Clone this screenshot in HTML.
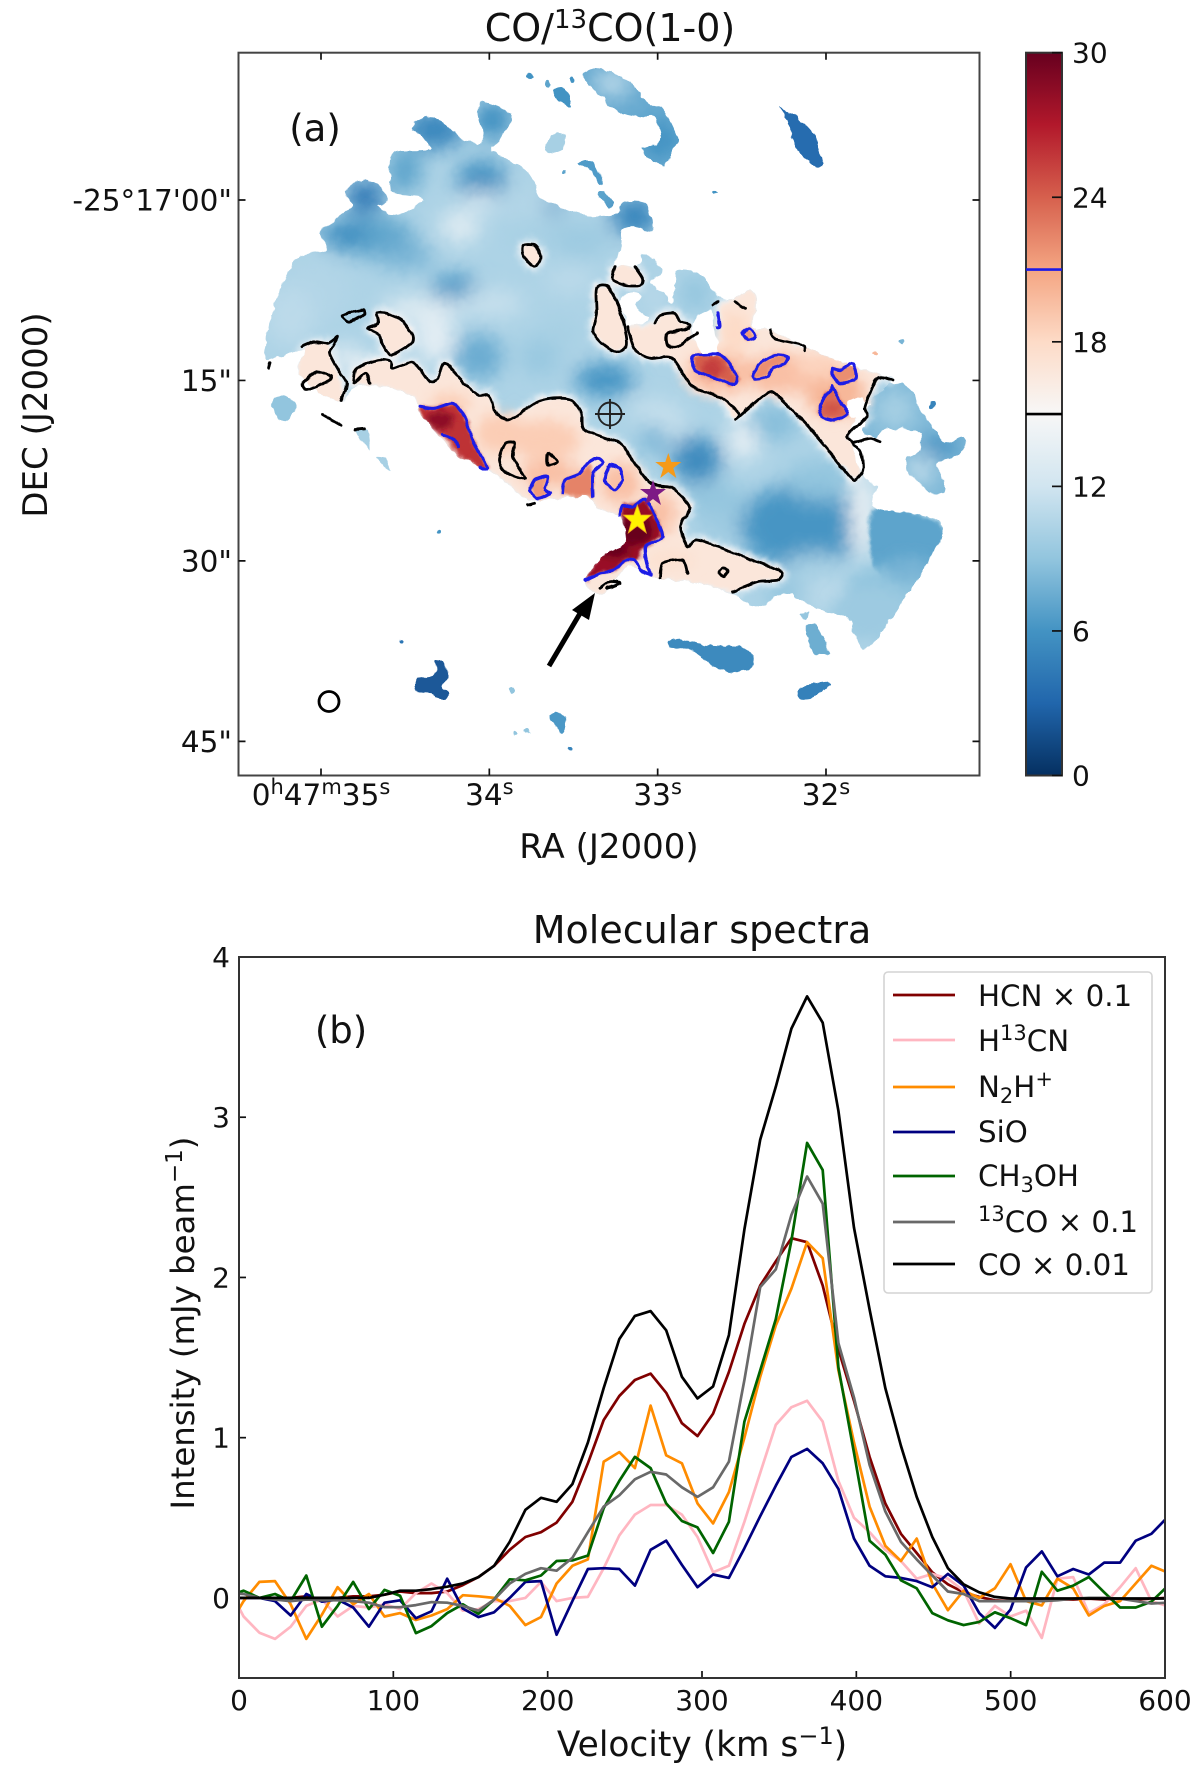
<!DOCTYPE html>
<html lang="en">
<head>
<meta charset="utf-8">
<title>CO/13CO ratio map and molecular spectra</title>
<style>
html,body{margin:0;padding:0;background:#fff}
svg{display:block}
text{font-family:"DejaVu Sans","Liberation Sans",sans-serif;fill:#111}
</style>
</head>
<body>
<svg id="fig" xmlns="http://www.w3.org/2000/svg" width="1200" height="1770" viewBox="0 0 1200 1770">
  <defs>
    <filter id="blur-cool" filterUnits="userSpaceOnUse" x="0" y="0" width="1200" height="900"><feGaussianBlur stdDeviation="10"/></filter>
    <filter id="blur-wide" filterUnits="userSpaceOnUse" x="0" y="0" width="1200" height="900"><feGaussianBlur stdDeviation="7"/></filter>
    <filter id="blur-mid" filterUnits="userSpaceOnUse" x="0" y="0" width="1200" height="900"><feGaussianBlur stdDeviation="3.5"/></filter>
    <filter id="blur-soft" filterUnits="userSpaceOnUse" x="0" y="0" width="1200" height="900"><feGaussianBlur stdDeviation="1.6"/></filter>
    <filter id="rough-edge" filterUnits="userSpaceOnUse" x="0" y="0" width="1200" height="900">
      <feTurbulence type="fractalNoise" baseFrequency="0.11" numOctaves="2" seed="4" result="noise"/>
      <feDisplacementMap in="SourceGraphic" in2="noise" scale="6" xChannelSelector="R" yChannelSelector="G"/>
    </filter>
    <filter id="rough-line" filterUnits="userSpaceOnUse" x="0" y="0" width="1200" height="900">
      <feTurbulence type="fractalNoise" baseFrequency="0.09" numOctaves="2" seed="9" result="noise"/>
      <feDisplacementMap in="SourceGraphic" in2="noise" scale="3.5" xChannelSelector="R" yChannelSelector="G"/>
    </filter>
    <clipPath id="emission-clip"></clipPath>
    <clipPath id="spectra-clip"><rect x="239" y="957" width="926" height="721"/></clipPath>
    <linearGradient id="cbar-gradient" x1="0" y1="1" x2="0" y2="0"></linearGradient>
  </defs>

  <text x="610" y="41" font-size="38" text-anchor="middle">CO/<tspan dy="-13" font-size="26">13</tspan><tspan dy="13">CO(1-0)</tspan></text>
  <g id="map-image" filter="url(#rough-edge)"></g>
  <g id="map-contours" filter="url(#rough-line)"></g>
  <g id="map-axes"></g>
  <text x="315" y="141" font-size="37" text-anchor="middle">(a)</text>
  <text x="609" y="858" font-size="34" text-anchor="middle">RA (J2000)</text>
  <text transform="translate(47,415) rotate(-90)" font-size="34" text-anchor="middle">DEC (J2000)</text>

  <ellipse cx="329" cy="701.5" rx="10" ry="10" fill="none" stroke="#000" stroke-width="2.8"/>
  <g fill="none" stroke="#222" stroke-width="1.9">
    <circle cx="610" cy="414" r="11.5"/>
    <path d="M595 414H625M610 399V429"/>
  </g>
  <polygon transform="translate(-2.7,0)" points="671,453 674,462 684,462 676,468 679,478 671,472 663,478 666,468 658,462 668,462" fill="#f59a1a"/>
  <polygon transform="translate(-3,0)" points="656,480 659,489 669,489 661,495 664,505 656,499 648,505 651,495 643,489 653,489" fill="#7d1a85"/>
  <polygon transform="translate(-1.7,0)" points="639,505 642.5,515 653,515 645,522 648,533 639,526 630,533 633,522 625,515 635.5,515" fill="#fff200" stroke="#e8a020" stroke-width="0.8"/>
  <g>
    <line x1="549" y1="666" x2="582" y2="610" stroke="#000" stroke-width="5"/>
    <polygon points="595,593 572,610 589,620" fill="#000"/>
  </g>

  <g id="cbar"></g>

  <text x="702" y="943" font-size="38" text-anchor="middle">Molecular spectra</text>
  <g id="spectra-axes"></g>
  <g id="spectra-lines" clip-path="url(#spectra-clip)"></g>
  <rect x="239" y="957" width="926" height="721" fill="none" stroke="#333" stroke-width="2"/>
  <text x="341" y="1043" font-size="37" text-anchor="middle">(b)</text>
  <text x="702" y="1756" font-size="34.4" text-anchor="middle">Velocity (km s<tspan dy="-12" font-size="24">−1</tspan><tspan dy="12">)</tspan></text>
  <text transform="translate(194,1323) rotate(-90)" font-size="32.4" text-anchor="middle">Intensity (mJy beam<tspan dy="-12" font-size="23">−1</tspan><tspan dy="12">)</tspan></text>

  <g font-size="29.3">
    <rect x="884" y="972" width="268" height="321" rx="4" fill="#fff" fill-opacity="0.85" stroke="#d4d4d4" stroke-width="1.6"/>
    <g><line x1="893" x2="955" y1="995" y2="995" stroke="#800000" stroke-width="2.7"/><text x="978" y="1006">HCN × 0.1</text></g>
    <g><line x1="893" x2="955" y1="1040" y2="1040" stroke="#ffb6c1" stroke-width="2.7"/><text x="978" y="1051">H<tspan dy="-11" font-size="21">13</tspan><tspan dy="11">CN</tspan></text></g>
    <g><line x1="893" x2="955" y1="1087" y2="1087" stroke="#ff8c00" stroke-width="2.7"/><text x="978" y="1097">N<tspan dy="6" font-size="21">2</tspan><tspan dy="-6">H</tspan><tspan dy="-11" font-size="21">+</tspan></text></g>
    <g><line x1="893" x2="955" y1="1132" y2="1132" stroke="#000080" stroke-width="2.7"/><text x="978" y="1142">SiO</text></g>
    <g><line x1="893" x2="955" y1="1176" y2="1176" stroke="#006400" stroke-width="2.7"/><text x="978" y="1186">CH<tspan dy="6" font-size="21">3</tspan><tspan dy="-6">OH</tspan></text></g>
    <g><line x1="893" x2="955" y1="1222" y2="1222" stroke="#696969" stroke-width="2.7"/><text x="978" y="1232"><tspan dy="-11" font-size="21">13</tspan><tspan dy="11">CO × 0.1</tspan></text></g>
    <g><line x1="893" x2="955" y1="1264" y2="1264" stroke="#000" stroke-width="2.7"/><text x="978" y="1275">CO × 0.01</text></g>
  </g>
</svg>

<script>
// ---------- Spectra data ----------
const velocity = [-7.1,3.0,13.2,23.3,33.5,43.6,53.7,63.9,74.0,84.2,
  94.3,104.4,114.6,124.7,134.9,145.0,155.1,165.3,175.4,185.6,
  195.7,205.8,216.0,226.1,236.3,246.4,256.5,266.7,276.8,287.0,
  297.1,307.2,317.4,327.5,337.7,347.8,357.9,368.1,378.2,388.4,
  398.5,408.6,418.8,428.9,439.1,449.2,459.3,469.5,479.6,489.8,
  499.9,510.0,520.2,530.3,540.5,550.6,560.7,570.9,581.0,591.2,601.3];
const hcn = [0,0,0,-.01,0,.01,-.02,0,.01,.01,
  .02,.04,.03,.03,.04,.08,.13,.2,.3,.38,
  .41,.47,.6,.84,1.11,1.26,1.36,1.4,1.28,1.09,
  1.01,1.15,1.41,1.71,1.95,2.1,2.245,2.22,1.95,1.55,
  1.23,.88,.59,.4,.28,.16,.085,.035,.006,-.015,
  -.02,-.015,-.01,-.01,-.01,-.005,-.01,-.005,-.01,-.005,0];
const h13cn = [.07,-.116,-.217,-.256,-.18,-.05,-.01,-.116,-.05,-.06,
  -.04,-.07,.03,.09,.03,-.08,-.07,-.02,-.02,0,
  .1,-.02,0,.006,.185,.39,.52,.58,.58,.52,
  .38,.16,.2,.475,.78,1.08,1.19,1.23,1.1,.73,
  .5,.41,.3,.23,.12,.15,.12,.045,-.16,-.05,
  -.116,-.08,-.25,.12,.13,-.095,-.04,.067,.185,-.02,-.05];
const n2hp = [-.185,-.02,.1,.105,-.04,-.256,-.105,.067,-.04,.024,
  -.116,-.095,-.138,-.11,-.07,.017,.01,0,-.05,-.17,
  -.12,.09,.2,.24,.85,.91,.81,1.2,.89,.84,
  .59,.465,.66,1.0,1.38,1.7,1.93,2.22,2.12,1.42,
  .97,.57,.325,.23,.37,.09,-.077,.045,0,.06,
  .21,-.02,-.047,.12,.06,-.11,-.05,-.02,.09,.2,.16];
const sio = [0,0,0,-.02,-.11,.024,-.024,-.01,-.06,-.18,
  -.03,-.015,-.127,-.084,.12,-.067,-.12,-.09,0,.1,
  .105,-.23,-.02,.18,.185,.18,.077,.3,.357,.206,
  .067,.146,.125,.31,.51,.7,.88,.93,.84,.68,
  .37,.2,.135,.125,.105,.067,.15,.077,-.095,-.187,
  -.073,.19,.29,.135,.18,.146,.22,.22,.357,.4,.5];
const ch3oh = [.01,.045,0,.024,-.02,.14,-.18,-.05,.1,-.07,
  .05,.013,-.22,-.176,-.095,-.04,-.1,-.01,.116,.11,
  .14,.23,.234,.264,.56,.73,.88,.81,.59,.48,
  .44,.28,.475,1.1,1.42,1.74,2.23,2.84,2.67,1.44,
  .905,.357,.27,.11,.06,-.095,-.14,-.17,-.15,-.09,
  -.127,-.17,.163,.045,.077,.13,.034,-.06,-.06,-.024,.07];
const co13 = [.03,.024,0,-.01,-.02,-.01,-.015,-.015,-.02,-.03,
  -.058,-.058,-.045,-.026,-.03,-.05,-.08,-.01,.09,.15,
  .185,.17,.25,.41,.57,.64,.74,.787,.77,.69,
  .63,.69,.85,1.36,1.94,2.05,2.39,2.63,2.46,1.59,
  1.25,.83,.54,.35,.24,.14,.04,.024,-.02,-.02,
  -.02,-.02,-.02,-.015,-.005,0,0,-.005,-.02,-.035,-.03];
const co = [0,0,0,0,0,0,0,0,0,0,
  .02,.045,.045,.055,.07,.09,.13,.2,.35,.55,
  .625,.6,.71,.97,1.31,1.615,1.76,1.79,1.67,1.38,
  1.245,1.32,1.64,2.3,2.86,3.19,3.553,3.754,3.59,3.04,
  2.31,1.8,1.31,.95,.63,.38,.185,.085,.035,.006,
  -.004,-.004,-.004,-.004,-.004,-.004,-.004,-.004,-.004,-.004,-.004];
const velocityTicks = [0,100,200,300,400,500,600];
const velocityTickLabels = ['0','100','200','300','400','500','600'];
const intensityTicks = [0,1,2,3,4];
const intensityTickLabels = ['0','1','2','3','4'];

// ---------- Map axis data ----------
const raTicks = [35,34,33,32];
const raTickLabels = ['0^h47^m35^s','34^s','33^s','32^s'];
const decTicks = [0,15,30,45];
const decTickLabels = ['-25°17\'00"','15"','30"','45"'];
const cbarTicks = [0,6,12,18,24,30];
const cbarTickLabels = ['0','6','12','18','24','30'];
const cbarBlueLevel = 21;
const cbarBlackLevel = 15;
const cmapLevels = [0,3,6,9,12,15,18,21,24,27,30];
const cmapColors = ['#053061','#2166ac','#4393c3','#92c5de','#d1e5f0','#f7f7f7','#fddbc7','#f4a582','#d6604d','#b2182b','#67001f'];

// ---------- Map regions, in image-grid coordinates with ratio values ----------
const mainRatio = 10.3;
const mainOutline = [[93,960],[93,910],[93,880],[123,740],[156,650],[213,630],[201,580],[236,530],[263,500],[249,460],[266,430],[293,422],[316,435],[336,470],[329,490],[313,495],[336,520],[369,520],[406,475],[349,460],[341,440],[341,350],[363,332],[413,330],[421,320],[383,260],[416,230],[449,250],[483,295],[519,310],[526,270],[513,230],[523,185],[563,205],[583,240],[563,290],[543,330],[603,380],[623,410],[639,470],[676,500],[703,515],[743,530],[793,520],[809,485],[849,490],[866,540],[863,578],[829,560],[803,570],[803,620],[789,665],[790,680],[840,672],[845,640],[885,690],[860,730],[890,760],[905,790],[915,690],[955,700],[1000,770],[1025,780],[1060,750],[1075,780],[1065,860],[1105,870],[1170,925],[1310,1000],[1345,1018],[1290,1100],[1260,1180],[1287,1310],[1313,1340],[1310,1405],[1447,1465],[1299,1820],[1257,1735],[1220,1720],[1170,1690],[1137,1660],[1107,1675],[1087,1700],[1053,1690],[1027,1665],[960,1630],[880,1615],[830,1580],[815,1580],[790,1620],[770,1660],[750,1660],[730,1620],[770,1540],[810,1510],[800,1430],[760,1410],[730,1370],[620,1380],[575,1330],[530,1285],[480,1250],[440,1190],[400,1120],[390,1080],[340,1040],[270,1040],[245,1085],[200,1060],[155,990],[170,925]];
const islands = [
  {v:7.4,pts:[[726,100],[756,85],[803,110],[836,150],[859,195],[883,200],[903,250],[916,300],[906,330],[889,375],[863,360],[843,330],[876,310],[883,280],[869,230],[843,230],[796,215],[763,170],[733,130]]},
  {v:3.4,pts:[[1120,200],[1165,245],[1190,290],[1205,375],[1190,380],[1150,320],[1135,240]]},
  {v:6,pts:[[666,150],[686,140],[696,170],[703,200],[686,185],[669,175]]},
  {v:10,pts:[[649,325],[669,280],[689,285],[686,330],[666,340]]},
  {v:6.5,pts:[[716,370],[739,360],[753,380],[766,430],[753,425],[743,390]]},
  {v:7,pts:[[756,460],[769,455],[786,490],[776,505]]},
  {v:9,pts:[[103,1090],[126,1065],[153,1095],[136,1140],[119,1135]]},
  {v:5.4,pts:[[897,1805],[920,1795],[973,1815],[1040,1820],[1067,1845],[1063,1880],[1020,1898],[980,1870],[940,1830],[903,1825]]},
  {v:7.6,pts:[[1173,1760],[1193,1755],[1217,1830],[1213,1845],[1187,1840],[1177,1800]]},
  {v:9,pts:[[1160,1725],[1177,1715],[1173,1740]]},
  {v:4.8,pts:[[1160,1940],[1215,1925],[1220,1935],[1185,1975],[1160,1975]]},
  {v:2.2,pts:[[430,1860],[445,1865],[455,1910],[445,1940],[458,1960],[450,1980],[420,1960],[395,1955],[392,1920],[430,1905]]},
  {v:6.3,pts:[[662,2025],[685,2020],[692,2055],[682,2080],[665,2045]]},
  {v:8.3,pts:[[1313,1040],[1360,1030],[1387,1060],[1400,1110],[1427,1160],[1447,1210],[1483,1190],[1490,1220],[1467,1250],[1440,1260],[1433,1280],[1450,1330],[1447,1360],[1417,1355],[1393,1320],[1373,1290],[1372,1255],[1400,1230],[1400,1185],[1367,1165],[1327,1170],[1313,1190],[1287,1170]]},
  {v:10,pts:[[315,1250],[330,1255],[342,1290],[325,1275]]},
  {v:10,pts:[[270,1170],[295,1175],[300,1235],[285,1200]]}
];
const spots = [[620,110,3,6],[655,130,2.5,7],[705,120,3,6],[990,460,2,6],[1365,905,3,8],[1310,940,2.5,20],[1425,1095,3,5],[440,1475,2,6],[363,1802,2,4],[585,1950,3,9],[590,2080,2,9],[612,2073,3,9],[700,2130,2.5,5],[688,398,2,7]];
const blueBlobs = [
  [429,270,60,60,5.2],[546,240,40,60,5.8],[290,470,40,50,4.2],[369,390,35,70,7],[523,420,50,60,5.8],[300,590,90,60,7],[249,580,50,40,5.6],[656,500,25,30,5.2],[369,650,60,40,8],[469,750,45,50,6.2],[190,760,70,90,10.5],[140,830,50,90,11],[600,500,60,60,10.5],[480,560,40,50,13],[520,480,30,30,12.4],[620,580,60,40,10],[720,600,60,50,9.5],[700,720,50,40,11],[400,810,80,40,13],[540,790,70,40,11.5],[516,950,50,70,7.5],[640,950,40,60,9.3],[769,1020,60,50,6],[680,880,40,50,10],[430,900,40,70,13.5],[300,985,40,30,14.5],[250,950,30,30,14],[900,1150,30,60,11.5],[953,1260,50,70,5.4],[870,1200,30,40,8],[1047,1200,30,60,14],[1107,1150,50,50,8.5],[1160,1460,120,130,6.1],[993,1380,60,50,9],[1200,1320,70,60,9],[1000,1450,40,50,9.5],[1285,1420,24,130,14.3],[860,1110,40,30,11.5],[1160,1660,70,40,9],[1227,1660,70,40,11],[1190,1580,60,40,10],[785,130,40,40,11],[880,300,40,60,6],[830,530,50,60,5.2],[870,830,20,25,10.5],[950,760,30,50,9],[870,770,25,30,11],[1350,1110,40,60,10],[1440,1220,40,30,5.5],[1400,1290,30,50,11]
];
const wedge = {v:7,pts:[[1310,1405],[1447,1465],[1387,1660],[1307,1580]]};
const wedgeFade = [[1340,1640,90,60,9],[1300,1720,80,80,9.5],[1380,1590,50,40,8]];
const bandRatio = 16.8;
const ridgeSouthWest = [[266,1030],[273,985],[316,960],[343,965],[346,985],[383,965],[399,985],[419,1025],[436,1020],[449,970],[483,1020],[516,1065],[539,1065],[553,1120],[576,1140],[609,1110],[636,1085],[669,1075],[703,1080],[723,1120],[730,1170],[800,1210],[820,1250],[860,1330],[905,1345],[940,1400],[920,1460],[935,1520],[955,1500],[1030,1540],[1080,1570],[1125,1595],[1115,1620],[1075,1625],[1025,1655]];
const ridgeSouthWestEdge = [[960,1630],[880,1615],[830,1580],[815,1580],[790,1620],[770,1660],[750,1660],[730,1620],[770,1540],[810,1510],[800,1430],[760,1410],[730,1370],[620,1380],[575,1330],[530,1285],[480,1250],[440,1190],[400,1120],[390,1080],[340,1040]];
const bands = [
  ridgeSouthWest.concat(ridgeSouthWestEdge),
  [[815,860],[850,860],[872,850],[880,825],[910,820],[920,845],[940,855],[945,900],[1000,900],[1000,800],[1025,780],[1060,750],[1075,780],[1065,860],[1105,870],[1170,925],[1310,1000],[1345,1018],[1315,1015],[1290,1100],[1295,1130],[1265,1170],[1255,1190],[1270,1220],[1285,1260],[1270,1320],[1255,1290],[1227,1250],[1173,1155],[1113,1065],[1093,1060],[1033,1135],[1005,1075],[945,1040],[905,955],[860,955],[830,930]],
  [[753,745],[776,740],[796,795],[809,860],[813,920],[789,935],[763,910],[746,875],[753,820]],
  [[607,615],[630,615],[642,650],[630,680],[615,665],[605,640]],
  [[790,680],[785,720],[810,735],[840,735],[845,715],[830,680]],
  [[313,820],[333,820],[363,840],[383,880],[383,910],[343,945],[326,915],[319,885],[296,865],[316,850]],
  [[155,990],[170,920],[216,910],[226,960],[245,1040],[245,1085],[210,1085],[170,1060]]
];
const warmBlobs = [
  [650,1200,70,60,18.8],[560,1180,50,60,18.8],[660,1300,60,40,19.5],[800,1330,40,60,19.5],[880,1420,30,60,19.5],[460,1090,40,30,18.8],[900,1560,50,25,17.5],[1000,1000,70,60,19.5],[1120,1000,70,60,19.5],[1230,1060,60,70,20],[1030,880,30,70,18],[1200,980,50,40,18.5]
];
const hotRegions = [
  {v:26,pts:[[400,1100],[430,1105],[465,1090],[490,1130],[505,1200],[535,1285],[490,1260],[470,1220],[445,1185],[410,1140]]},
  {v:22.5,pts:[[685,1360],[690,1320],[720,1300],[735,1270],[745,1290],[745,1370]]},
  {v:21.5,pts:[[620,1350],[630,1320],[655,1310],[650,1345],[660,1360],[635,1375]]},
  {v:28,pts:[[800,1425],[805,1395],[825,1400],[850,1378],[870,1430],[885,1490],[850,1520],[835,1560],[810,1560],[790,1590],[760,1600],[730,1620],[770,1530],[810,1500],[810,1440]]},
  {v:24,pts:[[945,960],[950,945],[1000,945],[1020,975],[1035,1010],[1030,1035],[1000,1020],[950,990]]},
  {v:22,pts:[[1065,1010],[1080,970],[1110,945],[1135,950],[1130,970],[1105,985],[1095,1010],[1070,1018]]},
  {v:21.5,pts:[[1045,880],[1060,865],[1070,890],[1055,900]]},
  {v:22,pts:[[1225,985],[1240,990],[1265,970],[1272,1015],[1240,1030],[1225,1005]]},
  {v:23.5,pts:[[1225,1040],[1240,1085],[1255,1120],[1230,1140],[1205,1130],[1200,1095]]}
];
const hotBlobs = [[440,1140,28,28,28.5],[480,1200,18,40,26],[830,1470,34,45,30],[790,1530,28,22,30],[830,1420,14,24,28.5],[985,985,22,28,25.5],[1225,1105,18,20,24.5]];
const holes = [
  [[799,790],[816,760],[839,760],[833,800],[859,835],[849,850],[816,855],[813,830]],
  [[949,840],[983,810],[989,860],[996,940],[966,945],[946,880]],
  [[1255,1085],[1285,1075],[1292,1130],[1262,1130]]
];
const blackLoops = [
  [[753,745],[776,740],[796,795],[809,860],[813,920],[789,935],[763,910],[746,875],[753,820]],
  [[607,615],[630,615],[642,650],[630,680],[615,665],[605,640]],
  [[313,820],[333,820],[363,840],[383,880],[383,910],[343,945],[326,915],[319,885],[296,865],[316,850]],
  [[246,825],[286,810],[286,825],[259,845]],
  [[166,1030],[193,995],[223,1010],[209,1030],[173,1050]],
  [[570,1210],[590,1210],[585,1250],[610,1315],[570,1295],[558,1260]],
  [[655,1240],[675,1265],[655,1275]],
  [[1005,1585],[1015,1595],[1008,1610],[998,1598]]
];
const blackLines = [
  ridgeSouthWest,
  [[815,860],[830,930],[860,955],[905,955],[945,1040],[1005,1075],[1037,1120],[1033,1135],[1093,1060],[1113,1065],[1173,1155],[1227,1250],[1260,1310],[1270,1320],[1285,1295],[1285,1260],[1280,1230],[1265,1210],[1300,1195],[1320,1205]],
  [[1345,1020],[1315,1015],[1290,1100],[1295,1130],[1265,1170],[1255,1190],[1265,1210]],
  [[163,920],[189,905],[216,910],[236,890],[226,920],[219,940],[236,990],[253,1030],[243,1080]],
  [[790,680],[785,720],[810,735],[840,735],[845,715],[830,680]],
  [[870,850],[880,825],[910,820],[920,845],[940,855],[930,870],[895,880],[895,915],[915,920],[955,880]],
  [[268,1030],[290,1000],[300,1030]],
  [[880,1615],[885,1570],[925,1560],[935,1600]],
  [[760,1645],[780,1625],[800,1630],[775,1645]],
  [[1100,870],[1110,895],[1165,915],[1170,932]],
  [[985,795],[995,785]],[[1030,785],[1050,805]],
  [[100,965],[97,985]],[[615,1395],[630,1390]],[[205,1125],[240,1155]],[[270,1170],[290,1168]]
];
const blueLoops = [
  [[400,1100],[430,1105],[465,1090],[490,1130],[505,1200],[535,1285],[520,1280]],
  [[445,1185],[470,1200],[475,1220]],
  [[620,1350],[630,1320],[655,1310],[650,1345],[660,1360],[635,1375],[620,1350]],
  [[685,1360],[690,1320],[720,1300],[735,1270],[755,1255],[765,1270],[745,1300],[745,1370]],
  [[780,1275],[800,1285],[805,1320],[790,1348],[772,1330],[772,1300],[780,1275]],
  [[800,1425],[805,1395],[825,1400],[850,1378],[870,1430],[885,1490],[850,1520],[855,1580],[862,1605],[840,1590],[830,1560],[810,1560],[790,1590],[760,1600],[730,1620]],
  [[945,960],[950,945],[1000,945],[1020,975],[1035,1010],[1030,1035],[1000,1020],[950,990],[945,960]],
  [[1065,1010],[1080,970],[1110,945],[1135,950],[1130,970],[1105,985],[1095,1010],[1070,1018],[1065,1010]],
  [[1045,880],[1060,865],[1070,890],[1055,900],[1045,880]],
  [[997,820],[1000,860],[995,865]],
  [[1225,985],[1240,990],[1265,970],[1272,1015],[1240,1030],[1225,1005],[1225,985]],
  [[1225,1040],[1240,1085],[1255,1120],[1230,1140],[1205,1130],[1200,1095],[1225,1040]]
];

// ---------- Axis functions ----------
const NS = 'http://www.w3.org/2000/svg';
const mapLeft = 238.5, mapRight = 979.5, mapTop = 52.7, mapBottom = 775.5;
const cbarLeft = 1026, cbarRight = 1062;
const specLeft = 239, specRight = 1165, specTop = 957, specBottom = 1678;
function raX(sec){ return 321 + (35 - sec) * 168.33; }
function decY(arcsec){ return 200 + arcsec * 12.03; }
function gridX(g){ return 220 + g / 2; }
function gridY(g){ return 40 + g / 3; }
function cbarY(v){ return mapBottom - (v / 30) * (mapBottom - mapTop); }
function velX(v){ return specLeft + (v / 600) * (specRight - specLeft); }
function intY(i){ return specTop + ((4 - i) / 4.5) * (specBottom - specTop); }

function hexToRgb(h){ return [1,3,5].map(function(k){ return parseInt(h.substr(k,2),16); }); }
function ratioColor(v){
  v = Math.max(0, Math.min(30, v));
  for (let i = 0; i < cmapLevels.length - 1; i++) {
    if (v <= cmapLevels[i + 1]) {
      const t = (v - cmapLevels[i]) / (cmapLevels[i + 1] - cmapLevels[i]);
      const a = hexToRgb(cmapColors[i]), b = hexToRgb(cmapColors[i + 1]);
      return 'rgb(' + a.map(function(c, k){ return Math.round(c + (b[k] - c) * t); }).join(',') + ')';
    }
  }
  return cmapColors[cmapColors.length - 1];
}
function add(parent, tag, attrs, text){
  const el = document.createElementNS(NS, tag);
  for (const k in attrs) el.setAttribute(k, attrs[k]);
  if (text !== undefined) el.textContent = text;
  parent.appendChild(el);
  return el;
}
// Catmull-Rom curve passing through every outline point
function smoothPath(pts, closed){
  const P = pts.map(function(p){ return [gridX(p[0]), gridY(p[1])]; });
  const n = P.length;
  const f = function(v){ return v.toFixed(1); };
  if (n < 3) return 'M' + P.map(function(p){ return f(p[0]) + ' ' + f(p[1]); }).join('L');
  const at = function(i){
    if (closed) return P[(i + n) % n];
    return P[Math.max(0, Math.min(n - 1, i))];
  };
  let d = 'M' + f(P[0][0]) + ' ' + f(P[0][1]);
  const segs = closed ? n : n - 1;
  const k = 1 / 8;
  for (let i = 0; i < segs; i++) {
    const p0 = at(i - 1), p1 = at(i), p2 = at(i + 1), p3 = at(i + 2);
    d += 'C' + f(p1[0] + (p2[0] - p0[0]) * k) + ' ' + f(p1[1] + (p2[1] - p0[1]) * k) + ' '
      + f(p2[0] - (p3[0] - p1[0]) * k) + ' ' + f(p2[1] - (p3[1] - p1[1]) * k) + ' '
      + f(p2[0]) + ' ' + f(p2[1]);
  }
  return d + (closed ? 'Z' : '');
}
function addSupText(parent, label, attrs, size){
  const t = add(parent, 'text', attrs);
  const parts = label.split(/(\^.)/);
  let raised = false;
  parts.forEach(function(part){
    if (!part) return;
    if (part[0] === '^') {
      add(t, 'tspan', {dy: -11, 'font-size': Math.round(size * 0.7)}, part[1]);
      raised = true;
    } else {
      add(t, 'tspan', {dy: raised ? 11 : 0}, part);
      raised = false;
    }
  });
  return t;
}

// ---------- Draw the ratio map ----------
const imageRoot = document.getElementById('map-image');
const clipEl = document.getElementById('emission-clip');
add(clipEl, 'path', {d: smoothPath(mainOutline, true)});
islands.forEach(function(isl){ add(clipEl, 'path', {d: smoothPath(isl.pts, true)}); });

const baseGroup = add(imageRoot, 'g', {});


islands.forEach(function(isl){
  const el = add(baseGroup, 'path', {d: smoothPath(isl.pts, true), fill: ratioColor(isl.v)});
  
  
});
spots.forEach(function(s){
  const el = add(baseGroup, 'circle', {cx: gridX(s[0]), cy: gridY(s[1]), r: s[2], fill: ratioColor(s[3])});
  
  
});
const mainBase = add(imageRoot, 'path', {d: smoothPath(mainOutline, true), fill: ratioColor(mainRatio)});



const clipped = add(imageRoot, 'g', {'clip-path': 'url(#emission-clip)'});



const coolGroup = add(clipped, 'g', {filter: 'url(#blur-cool)'});
blueBlobs.forEach(function(b){
  const el = add(coolGroup, 'ellipse', {cx: gridX(b[0]), cy: gridY(b[1]), rx: b[2] / 2, ry: b[3] / 3, fill: ratioColor(b[4])});
  
  
});
const wedgeEl = add(clipped, 'path', {d: smoothPath(wedge.pts, true), fill: ratioColor(wedge.v), filter: 'url(#blur-soft)'});


const wedgeFadeGroup = add(clipped, 'g', {filter: 'url(#blur-wide)'});
wedgeFade.forEach(function(b){
  const el = add(wedgeFadeGroup, 'ellipse', {cx: gridX(b[0]), cy: gridY(b[1]), rx: b[2] / 2, ry: b[3] / 3, fill: ratioColor(b[4])});
  
  
});

const haloGroup = add(clipped, 'g', {filter: 'url(#blur-mid)'});
bands.forEach(function(b){
  const el = add(haloGroup, 'path', {d: smoothPath(b, true), fill: ratioColor(15), stroke: ratioColor(14.4), 'stroke-width': 8});
  
  
});
const bandGroup = add(clipped, 'g', {filter: 'url(#blur-soft)'});
bands.forEach(function(b){
  const el = add(bandGroup, 'path', {d: smoothPath(b, true), fill: ratioColor(bandRatio)});
  
  
});
const warmGroup = add(clipped, 'g', {filter: 'url(#blur-wide)'});
warmBlobs.forEach(function(b){
  const el = add(warmGroup, 'ellipse', {cx: gridX(b[0]), cy: gridY(b[1]), rx: b[2] / 2, ry: b[3] / 3, fill: ratioColor(b[4])});
  
  
});
const hotGroup = add(clipped, 'g', {filter: 'url(#blur-soft)'});
hotRegions.forEach(function(r){
  const el = add(hotGroup, 'path', {d: smoothPath(r.pts, true), fill: ratioColor(r.v)});
  
  
});
const hotDetail = add(clipped, 'g', {filter: 'url(#blur-mid)'});
hotBlobs.forEach(function(b){
  const el = add(hotDetail, 'ellipse', {cx: gridX(b[0]), cy: gridY(b[1]), rx: b[2] / 2, ry: b[3] / 3, fill: ratioColor(b[4])});
  
  
});
holes.forEach(function(h){
  const el = add(imageRoot, 'path', {d: smoothPath(h, true), fill: '#fff'});
  
  
});

// ---------- Contours ----------
const contourRoot = document.getElementById('map-contours');
blackLoops.forEach(function(c){
  const el = add(contourRoot, 'path', {d: smoothPath(c, true), fill: 'none', stroke: '#000', 'stroke-width': 2.8, 'stroke-linejoin': 'round', 'stroke-linecap': 'round'});
  
  
});
blackLines.forEach(function(c){
  const el = add(contourRoot, 'path', {d: smoothPath(c, false), fill: 'none', stroke: '#000', 'stroke-width': 2.8, 'stroke-linejoin': 'round', 'stroke-linecap': 'round'});
  
  
});
blueLoops.forEach(function(c){
  const el = add(contourRoot, 'path', {d: smoothPath(c, false), fill: 'none', stroke: '#1a1ae6', 'stroke-width': 3, 'stroke-linejoin': 'round', 'stroke-linecap': 'round'});
  
  
});

// ---------- Map axes ----------
const mapAxes = document.getElementById('map-axes');
const mapFrame = add(mapAxes, 'rect', {x: mapLeft, y: mapTop, width: mapRight - mapLeft, height: mapBottom - mapTop, fill: 'none', stroke: '#444', 'stroke-width': 2});


raTicks.forEach(function(s, i){
  const x = raX(s);
  const tick = add(mapAxes, 'path', {d: 'M' + x + ' ' + mapBottom + 'v-7M' + x + ' ' + mapTop + 'v7', stroke: '#111', 'stroke-width': 1.7, fill: 'none'});
  
  
  const lab = addSupText(mapAxes, raTickLabels[i], {x: x, y: 805, 'font-size': 29.5, 'text-anchor': 'middle'}, 29.5);
  
  
});
decTicks.forEach(function(d, i){
  const y = decY(d);
  const tick = add(mapAxes, 'path', {d: 'M' + mapLeft + ' ' + y + 'h7M' + mapRight + ' ' + y + 'h-7', stroke: '#111', 'stroke-width': 1.7, fill: 'none'});
  
  
  const lab = add(mapAxes, 'text', {x: 232, y: y + 10.5, 'font-size': 29.5, 'text-anchor': 'end'}, decTickLabels[i]);
  
  
});

// ---------- Colorbar ----------
const cbarRoot = document.getElementById('cbar');
const grad = document.getElementById('cbar-gradient');
cmapLevels.forEach(function(level, i){
  add(grad, 'stop', {offset: level / 30, 'stop-color': cmapColors[i]});
});
const cbarRect = add(cbarRoot, 'rect', {x: cbarLeft, y: mapTop, width: cbarRight - cbarLeft, height: mapBottom - mapTop, fill: 'url(#cbar-gradient)', stroke: '#333', 'stroke-width': 2});


const cbarBlue = add(cbarRoot, 'line', {x1: cbarLeft, x2: cbarRight, y1: cbarY(cbarBlueLevel), y2: cbarY(cbarBlueLevel), stroke: '#1a1ae6', 'stroke-width': 2.6});


const cbarBlack = add(cbarRoot, 'line', {x1: cbarLeft, x2: cbarRight, y1: cbarY(cbarBlackLevel), y2: cbarY(cbarBlackLevel), stroke: '#000', 'stroke-width': 2.6});


cbarTicks.forEach(function(v, i){
  const y = cbarY(v);
  const tick = add(cbarRoot, 'line', {x1: cbarRight - 10, x2: cbarRight, y1: y, y2: y, stroke: '#111', 'stroke-width': 1.7});
  
  
  const lab = add(cbarRoot, 'text', {x: 1072, y: y + 10, 'font-size': 28}, cbarTickLabels[i]);
  
  
});

// ---------- Spectra ----------
const specAxes = document.getElementById('spectra-axes');
velocityTicks.forEach(function(v, i){
  const x = velX(v);
  const tick = add(specAxes, 'line', {x1: x, x2: x, y1: specBottom, y2: specBottom - 7, stroke: '#111', 'stroke-width': 1.7});
  
  
  const lab = add(specAxes, 'text', {x: x, y: 1710, 'font-size': 28, 'text-anchor': 'middle'}, velocityTickLabels[i]);
  
  
});
intensityTicks.forEach(function(v, i){
  const y = intY(v);
  const tick = add(specAxes, 'line', {x1: specLeft, x2: specLeft + 7, y1: y, y2: y, stroke: '#111', 'stroke-width': 1.7});
  
  
  const lab = add(specAxes, 'text', {x: 230, y: y + 10, 'font-size': 28, 'text-anchor': 'end'}, intensityTickLabels[i]);
  
  
});

const specLines = document.getElementById('spectra-lines');
function drawSeries(values, color, name){
  const d = values.map(function(val, i){
    return (i ? 'L' : 'M') + velX(velocity[i]).toFixed(1) + ' ' + intY(val).toFixed(1);
  }).join('');
  const el = add(specLines, 'path', {d: d, fill: 'none', stroke: color, 'stroke-width': 2.7, 'stroke-linejoin': 'round'});
  
  
}
drawSeries(hcn, '#800000', 'series-hcn');
drawSeries(h13cn, '#ffb6c1', 'series-h13cn');
drawSeries(n2hp, '#ff8c00', 'series-n2hplus');
drawSeries(sio, '#000080', 'series-sio');
drawSeries(ch3oh, '#006400', 'series-ch3oh');
drawSeries(co13, '#696969', 'series-13co');
drawSeries(co, '#000000', 'series-co');
</script>
</body>
</html>
